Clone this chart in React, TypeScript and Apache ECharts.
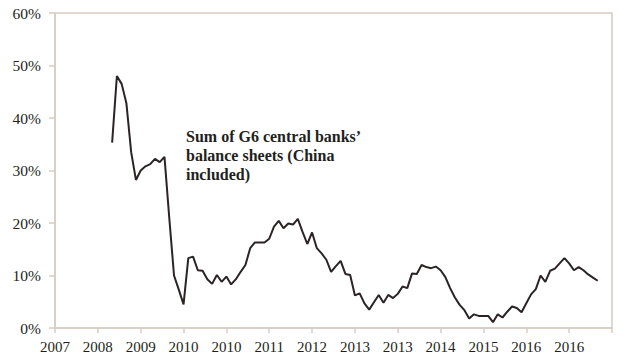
import React, { useEffect, useRef } from "react";
import * as echarts from "echarts";

// Monthly growth (%) of G6 central banks' balance sheets; month index 0 = Dec 2007
const startMonth = 12;
const growthValues = [
  35.3, 48.0, 46.5, 42.8, 33.5, 28.2, 30.0, 30.8, 31.2, 32.2, 31.6, 32.6,
  21.0, 10.0, 7.3, 4.5, 13.3, 13.6, 11.0, 10.9, 9.3, 8.4, 10.1, 8.8,
  9.8, 8.3, 9.3, 10.7, 12.0, 15.2, 16.3, 16.3, 16.3, 17.0, 19.3, 20.4,
  19.0, 19.9, 19.7, 20.8, 18.3, 16.0, 18.2, 15.2, 14.2, 13.0, 10.7, 11.8,
  12.8, 10.3, 10.1, 6.2, 6.6, 4.7, 3.5, 4.9, 6.3, 4.8, 6.3, 5.7,
  6.5, 7.9, 7.6, 10.4, 10.3, 12.0, 11.6, 11.4, 11.7, 11.0, 9.7, 7.6,
  5.8, 4.4, 3.4, 1.8, 2.6, 2.3, 2.3, 2.3, 1.1, 2.6, 2.0, 3.1,
  4.1, 3.8, 3.0, 4.7, 6.4, 7.4, 10.0, 8.8, 10.9, 11.3, 12.3, 13.3,
  12.3, 11.0, 11.6, 11.0, 10.2, 9.6, 9.0,
];
const xTickLabels = [
  "2007", "2008", "2009", "2010", "2010", "2011", "2012",
  "2013", "2013", "2014", "2015", "2016", "2016", "",
];
const yTicks = [0, 10, 20, 30, 40, 50, 60];
const annotation = "Sum of G6 central banks’\nbalance sheets (China\nincluded)";

const AXIS_COLOR = "#d6cdc5";
const TEXT_COLOR = "#231f20";
const FONT = "'Liberation Serif', 'Times New Roman', serif";

export default function App() {
  const ref = useRef<HTMLDivElement>(null);
  useEffect(() => {
    if (!ref.current) return;
    const chart = echarts.init(ref.current, undefined, { renderer: "svg" });
    const tickStep = 9;
    chart.setOption({
      animation: false,
      backgroundColor: "#ffffff",
      grid: {
        left: 55,
        right: 28,
        top: 13,
        bottom: 32,
        show: true,
        borderColor: AXIS_COLOR,
        borderWidth: 1.5,
      },
      xAxis: {
        type: "value",
        min: 0,
        max: tickStep * (xTickLabels.length - 1),
        interval: tickStep,
        axisLine: { show: true, lineStyle: { color: AXIS_COLOR, width: 1.5 } },
        axisTick: { show: true, length: 5, lineStyle: { color: AXIS_COLOR, width: 1.5 } },
        splitLine: { show: false },
        axisLabel: {
          color: TEXT_COLOR,
          fontFamily: FONT,
          fontSize: 15,
          margin: 11,
          formatter: (v: number) => xTickLabels[Math.round(v / tickStep)] ?? "",
        },
      },
      yAxis: {
        type: "value",
        min: yTicks[0],
        max: yTicks[yTicks.length - 1],
        interval: 10,
        axisLine: { show: true, lineStyle: { color: AXIS_COLOR, width: 1.5 } },
        axisTick: { show: true, length: 6, lineStyle: { color: AXIS_COLOR, width: 1.5 } },
        splitLine: { show: false },
        axisLabel: {
          color: TEXT_COLOR,
          fontFamily: FONT,
          fontSize: 15.5,
          margin: 14,
          formatter: (v: number) => `${v}%`,
        },
      },
      series: [
        {
          type: "line",
          data: growthValues.map((v, i) => [startMonth + i, v]),
          showSymbol: false,
          symbol: "none",
          lineStyle: { color: "#2b2324", width: 2 },
        },
      ],
      graphic: [
        {
          type: "text",
          left: 186,
          top: 127,
          style: {
            text: annotation,
            fill: TEXT_COLOR,
            font: `bold 16px ${FONT}`,
            lineHeight: 19,
          },
        },
      ],
    });
    return () => chart.dispose();
  }, []);
  return <div ref={ref} style={{ width: 640, height: 360, position: "fixed", left: 0, top: 0 }} />;
}
